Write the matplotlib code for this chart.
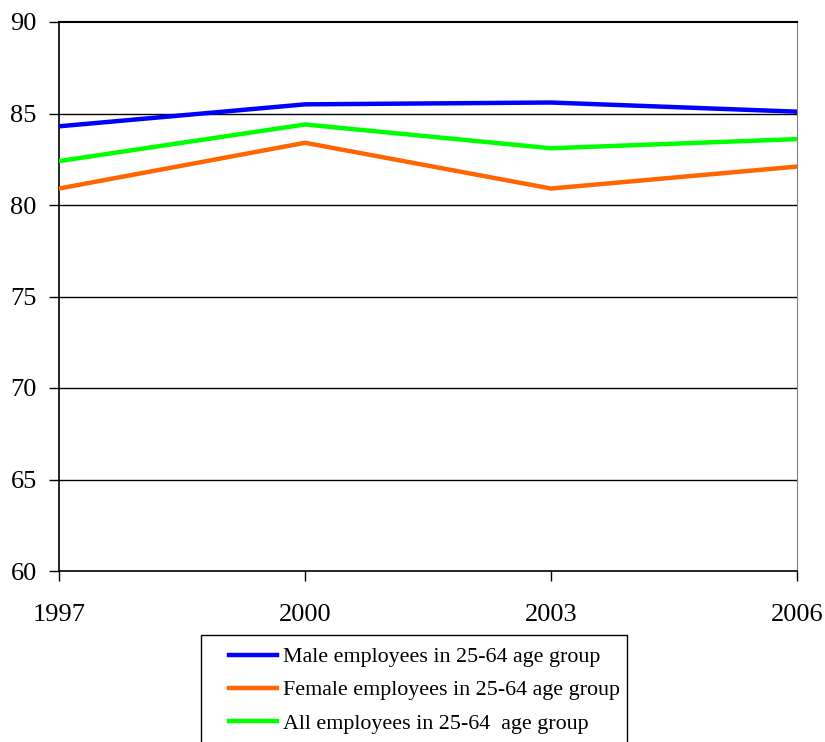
import matplotlib
matplotlib.use("Agg")
import matplotlib.pyplot as plt
from matplotlib.patches import Rectangle

years = [1997, 2000, 2003, 2006]
male = [84.3, 85.5, 85.6, 85.1]
female = [80.9, 83.4, 80.9, 82.1]
all_emp = [82.4, 84.4, 83.1, 83.6]
y_ticks = [60, 65, 70, 75, 80, 85, 90]
labels = ["Male employees in 25-64 age group",
          "Female employees in 25-64 age group",
          "All employees in 25-64  age group"]
colors = ["#0000FF", "#FF6600", "#00FF00"]

plt.rcParams['font.family'] = ['Liberation Serif', 'DejaVu Serif']

W, H = 825, 742
fig = plt.figure(figsize=(W / 100, H / 100), dpi=100)
ax = fig.add_axes([59 / W, 1 - 571 / H, (797 - 59) / W, (571 - 22) / H])

lines = []
for vals, c in zip([male, female, all_emp], colors):
    ln, = ax.plot(years, vals, color=c, lw=3.2, solid_joinstyle='miter', zorder=3)
    lines.append(ln)

ax.set_xlim(1997, 2006)
ax.set_ylim(60, 90)
ax.set_xticks(years)
ax.set_yticks(y_ticks)
for v in y_ticks[1:-1]:
    ax.axhline(v, color='black', lw=1, zorder=1)

ax.spines['top'].set_linewidth(1.5)
ax.spines['right'].set_color('#808080')
ax.spines['left'].set_linewidth(1.2)
ax.spines['bottom'].set_linewidth(1.2)

ax.tick_params(axis='y', direction='out', length=7, width=1, pad=9, labelsize=19)
ax.tick_params(axis='x', direction='out', length=7, width=1, pad=17, labelsize=19)

# legend frame drawn separately so the inner padding can be set freely
frame = Rectangle((201 / W, -0.05), (627 - 201) / W, 0.05 + (H - 635) / H,
                  transform=fig.transFigure, facecolor='white',
                  edgecolor='black', lw=1, zorder=0)
fig.patches.append(frame)

leg = fig.legend(lines, labels, loc='upper left',
                 bbox_to_anchor=(229 / W, 1 - 647 / H), borderaxespad=0,
                 fontsize=15.8, frameon=False, borderpad=0,
                 handlelength=2.2, handletextpad=0.28, labelspacing=0.58)

fig.savefig("out.png", dpi=100)
